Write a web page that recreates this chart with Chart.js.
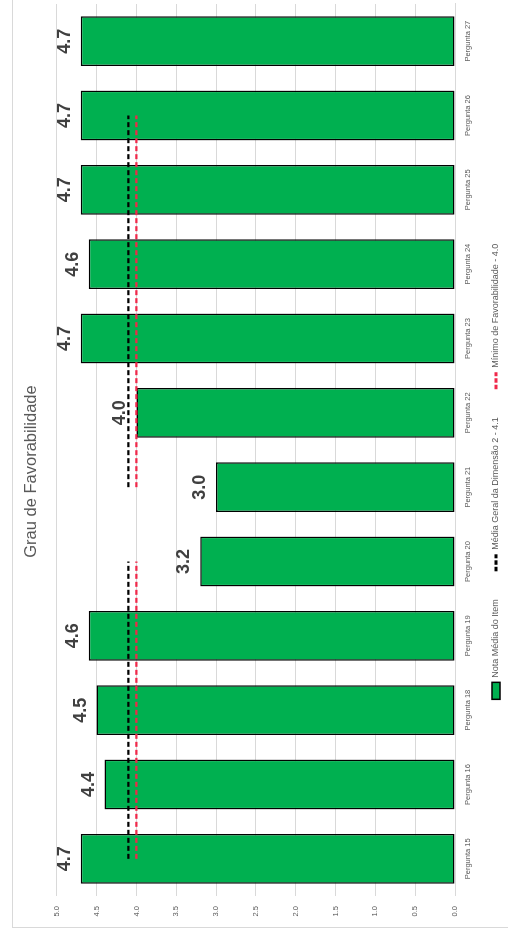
<!DOCTYPE html>
<html>
<head>
<meta charset="utf-8">
<script src="https://cdn.jsdelivr.net/npm/chart.js@4.4.0/dist/chart.umd.min.js"></script>
<style>
  html, body { margin: 0; padding: 0; background: #fff; overflow: hidden; }
  #wrap {
    position: absolute; left: 0; top: 0;
    width: 939px; height: 508px;
    transform-origin: 0 0;
    transform: translateY(939px) rotate(-90deg);
  }
</style>
</head>
<body>
<div id="wrap"><canvas id="grau" width="939" height="508"></canvas></div>
<script>
// categorias e valores
const perguntas = ["Pergunta 15", "Pergunta 16", "Pergunta 18", "Pergunta 19", "Pergunta 20", "Pergunta 21",
	"Pergunta 22", "Pergunta 23", "Pergunta 24", "Pergunta 25", "Pergunta 26", "Pergunta 27"];
const notas = [4.7, 4.4, 4.5, 4.6, 3.2, 3.0, 4.0, 4.7, 4.6, 4.7, 4.7, 4.7];
const mediaGeral = [4.1, 4.1, 4.1, 4.1, 4.1, 4.1, 4.1, 4.1, 4.1, 4.1, 4.1, null];
const minimo = [4.0, 4.0, 4.0, 4.0, 4.0, 4.0, 4.0, 4.0, 4.0, 4.0, 4.0, null];
const ticksValor = [0, 0.5, 1, 1.5, 2, 2.5, 3, 3.5, 4, 4.5, 5];

const FONT = '"Liberation Sans", Arial, sans-serif';
const GRAY = "#595959";

// moldura do grafico (so aparecem dois lados)
const frame = {
	id: "frame",
	beforeDraw(chart) {
		const ctx = chart.ctx;
		ctx.save();
		ctx.fillStyle = "#fff";
		ctx.fillRect(0, 0, chart.width, chart.height);
		ctx.strokeStyle = "#d9d9d9";
		ctx.lineWidth = 1;
		ctx.strokeRect(11.5, 12.5, 1000, 600);
		ctx.restore();
	},
	// legenda mais perto do eixo
	afterLayout(chart) {
		const dy = chart.legend.top - 463.5;
		chart.legend.top -= dy;
		chart.legend.bottom -= dy;
	},
};

// rotulos de valor em cima das barras
const barLabels = {
	id: "barLabels",
	afterDatasetsDraw(chart) {
		const ctx = chart.ctx;
		const meta = chart.getDatasetMeta(0);
		ctx.save();
		ctx.font = "bold 18px " + FONT;
		ctx.fillStyle = "#404040";
		ctx.textAlign = "center";
		ctx.textBaseline = "alphabetic";
		meta.data.forEach((bar, i) => {
			ctx.fillText(notas[i].toFixed(1), bar.x, bar.y - 11);
		});
		ctx.restore();
	},
};

// trecho sem linha entre Pergunta 20 e 21
const gap = (ctx) => (ctx.p0DataIndex === 4 ? "rgba(0,0,0,0)" : undefined);

// marcador tracejado na legenda
const legendLabels = (chart) => {
	const items = Chart.defaults.plugins.legend.labels.generateLabels(chart);
	items.forEach((it) => {
		const ds = chart.data.datasets[it.datasetIndex];
		if (ds.type === "line") {
			it.lineDash = [4.5, 2];
			it.lineWidth = 3;
			it.strokeStyle = ds.borderColor;
		}
	});
	return items;
};

new Chart(document.getElementById("grau").getContext("2d"), {
	type: "bar",
	data: {
		labels: perguntas,
		datasets: [
			{
				label: "Nota Média do Item",
				data: notas,
				backgroundColor: "#00B050",
				borderColor: "#000",
				borderWidth: 1.5,
				borderSkipped: false,
				barPercentage: 0.67,
				categoryPercentage: 1,
				pointStyle: "rect",
				order: 2,
			},
			{
				type: "line",
				label: "Média Geral da Dimensão 2 - 4.1",
				data: mediaGeral,
				borderColor: "#000",
				backgroundColor: "#000",
				borderWidth: 2.25,
				borderDash: [5, 3],
				pointRadius: 0,
				pointStyle: "line",
				segment: { borderColor: gap },
				order: 0,
			},
			{
				type: "line",
				label: "Mínimo de Favorabilidade - 4.0",
				data: minimo,
				borderColor: "#F0284A",
				backgroundColor: "#F0284A",
				borderWidth: 2.25,
				borderDash: [5, 3],
				pointRadius: 0,
				pointStyle: "line",
				segment: { borderColor: gap },
				order: 1,
			},
		],
	},
	options: {
		responsive: false,
		animation: false,
		layout: { padding: { left: 0, right: 4, top: 0, bottom: -16 } },
		scales: {
			x: {
				grid: { display: false },
				border: { color: "#d9d9d9" },
				ticks: { color: GRAY, font: { family: FONT, size: 7.5 }, padding: 0, maxRotation: 0, autoSkip: false },
				afterFit: (scale) => { scale.height = 22; },
			},
			y: {
				min: 0,
				max: 5,
				afterBuildTicks: (scale) => { scale.ticks = ticksValor.map((v) => ({ value: v })); },
				grid: { color: "#d9d9d9", drawTicks: false },
				border: { display: false },
				ticks: {
					color: GRAY,
					font: { family: FONT, size: 7.5 },
					padding: 10,
					callback: (v) => v.toFixed(1),
				},
				afterFit: (scale) => { scale.width = 43; },
			},
		},
		plugins: {
			title: {
				display: true,
				text: "Grau de Favorabilidade",
				color: GRAY,
				font: { family: FONT, size: 16.5, weight: "normal" },
				padding: { top: 22, bottom: 15 },
			},
			legend: {
				position: "bottom",
				labels: {
					usePointStyle: true,
					pointStyleWidth: 17,
					boxHeight: 8,
					color: GRAY,
					font: { family: FONT, size: 9 },
					padding: 28,
					sort: (a, b) => a.datasetIndex - b.datasetIndex,
					generateLabels: legendLabels,
				},
			},
			tooltip: { enabled: false },
		},
	},
	plugins: [frame, barLabels],
});
</script>
</body>
</html>
